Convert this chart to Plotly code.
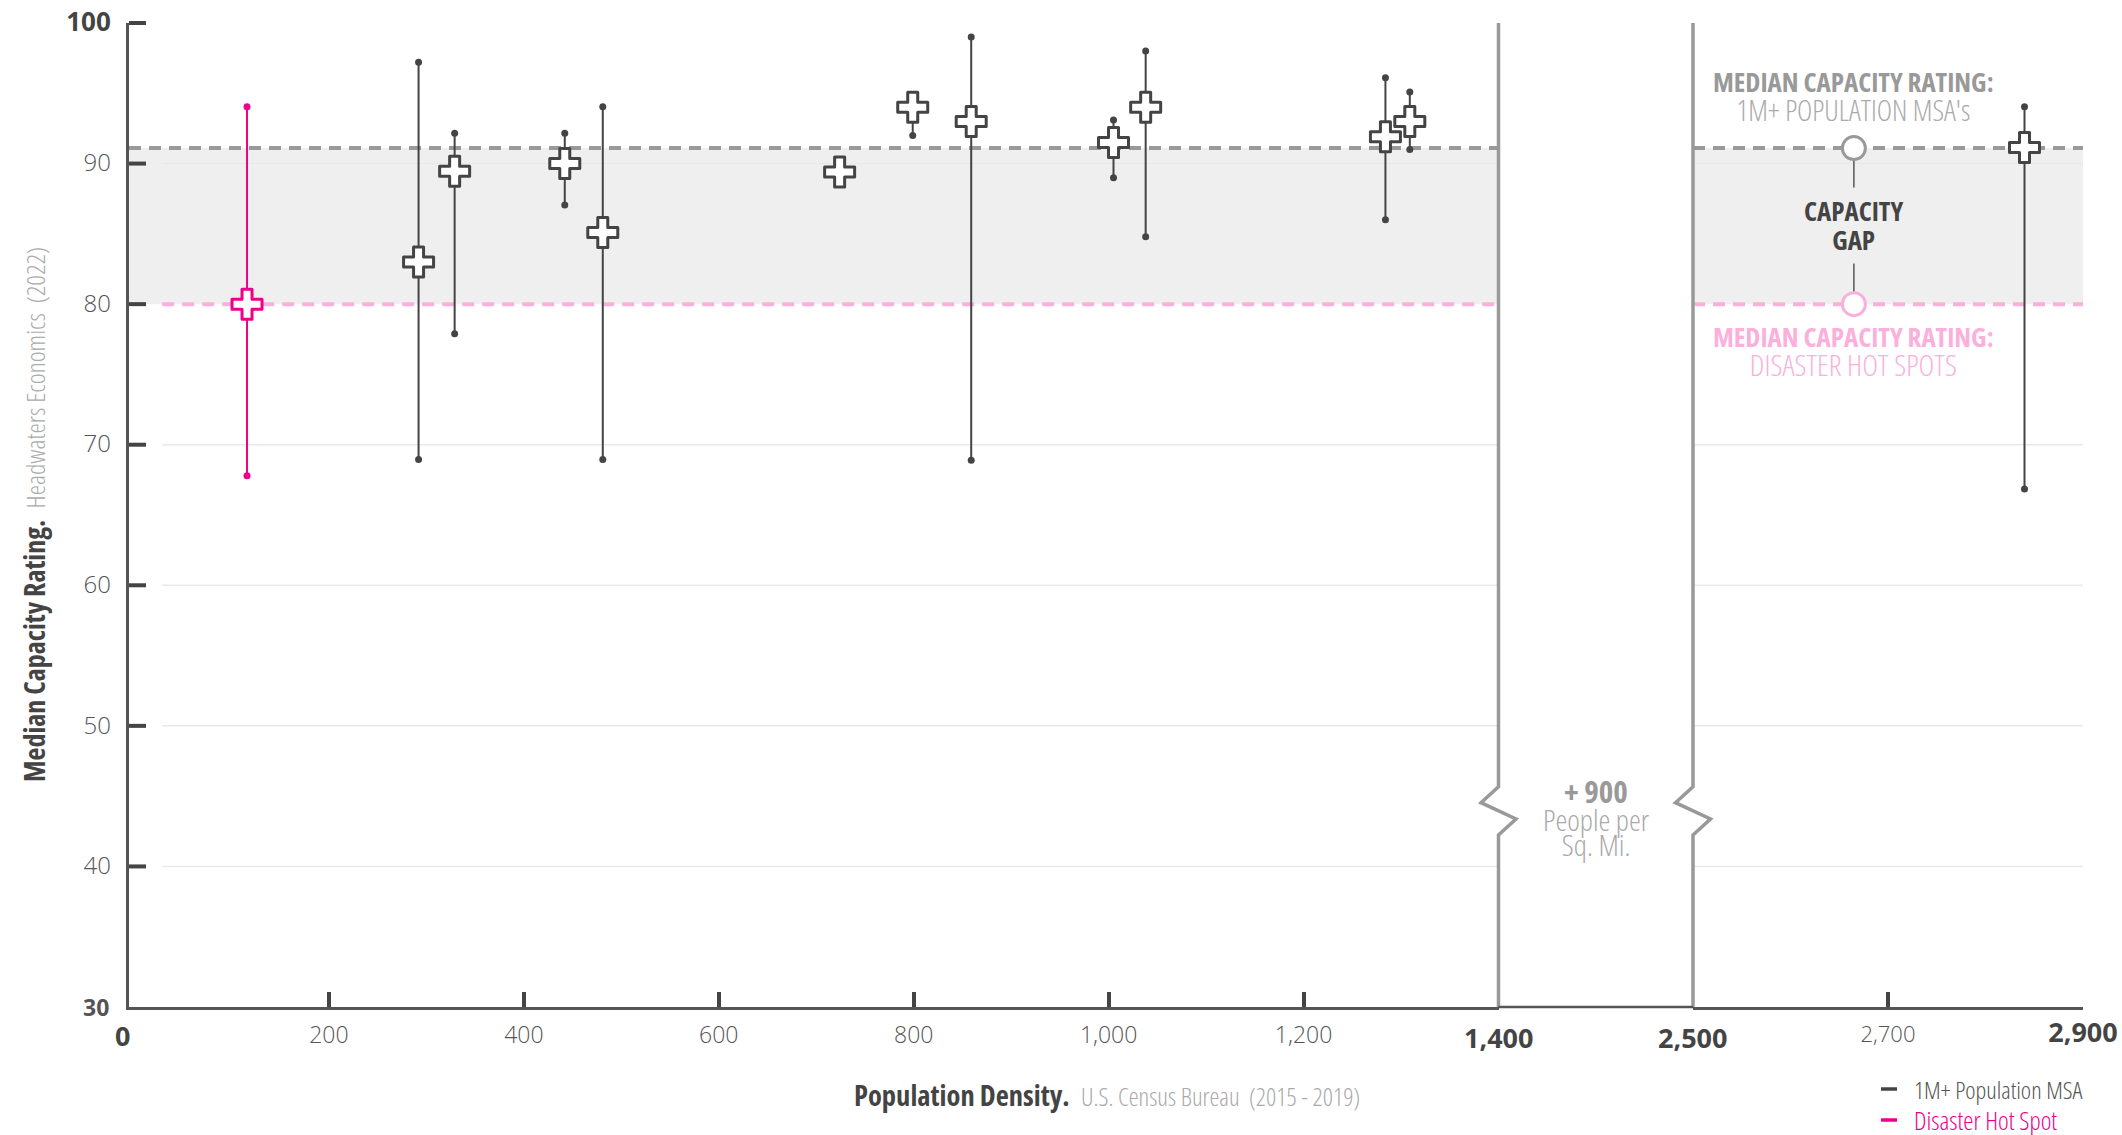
import plotly.graph_objects as go

# ---------- data ----------
hot_density = [116]
hot_median = [80]
hot_low = [67.8]
hot_high = [94.05]

msa_density = [292, 329, 442, 481, 724, 799, 859, 1005, 1038, 1284, 1309]
msa_median = [83, 89.45, 90, 85.1, 89.4, 94, 93, 91.5, 94, 91.9, 93]
msa_low = [68.95, 77.9, 87.05, 68.95, 89.4, 92, 68.9, 89, 84.8, 86, 91]
msa_high = [97.2, 92.15, 92.15, 94.05, 89.4, 94, 99, 93.1, 98, 96.1, 95.1]

far_density = [2840]
far_median = [91.15]
far_low = [66.85]
far_high = [94.05]

median_msa = 91.1
median_hot = 80
y_ticks = [40, 50, 60, 70, 80, 90, 100]
x_ticks_left = [200, 400, 600, 800, 1000, 1200]
x_tick_labels_left = ["200", "400", "600", "800", "1,000", "1,200"]
x_ticks_right = [2700, 2900]
gap_x = 2665
x_start = -5.1

# ---------- style ----------
FONT = "Open Sans, Noto Sans, sans-serif"
COND = 75
FULL = 100
DARK = "#444444"
MID = "#555555"
GREY = "#999999"
LGREY = "#aaaaaa"
PINK = "#ec008c"
LPINK = "#fbb0dc"
W, H = 2122, 1135
L, R, T, B = 129, 39, 23, 128
PW, PH = W - L - R, H - T - B
d1 = (1498.5 - L) / PW
d2 = (1693 - L) / PW


def lab(t, size, bold=False, color=MID, stretch=COND):
    w = 700 if bold else 300
    return f'<span style="font-stretch:{stretch}%;font-size:{size}px;color:{color};font-weight:{w}">{t}</span>'


def px(v):
    return (v - L) / PW


def py(v):
    return 1 - (v - T) / PH


fig = go.Figure()


def whisk(xs, meds, lows, highs, color, axis):
    wx, wy = [], []
    for x, lo, hi in zip(xs, lows, highs):
        wx += [x, x, None]
        wy += [lo, hi, None]
    fig.add_trace(go.Scatter(x=wx, y=wy, mode="lines", xaxis=axis, yaxis="y", showlegend=False,
                             line=dict(color=color, width=2), cliponaxis=False, hoverinfo="skip"))
    fig.add_trace(go.Scatter(x=xs + xs, y=lows + highs, mode="markers", xaxis=axis, yaxis="y", showlegend=False,
                             marker=dict(color=color, size=7), cliponaxis=False, hoverinfo="skip"))
    fig.add_trace(go.Scatter(x=xs, y=meds, mode="markers", xaxis=axis, yaxis="y", showlegend=False, cliponaxis=False,
                             marker=dict(symbol="cross", size=25, color="white", line=dict(color=color, width=3))))


shapes = []


def hline(y, x0, x1, ref, color, width, dash="solid", layer="below"):
    shapes.append(dict(type="line", xref=ref, yref="y", x0=x0, x1=x1, y0=y, y1=y, layer=layer,
                       line=dict(color=color, width=width, dash=dash)))


for ref, a, b in (("x", x_start, 1400), ("x2", 2500, 2900)):
    shapes.append(dict(type="rect", xref=ref, yref="y", x0=a, x1=b, y0=median_hot, y1=median_msa, layer="below",
                       fillcolor="#efefef", line=dict(width=0)))
for ref, a, b in (("x", 29, 1400), ("x2", 2500, 2900)):
    for y in [40, 50, 60, 70, 90]:
        hline(y, a, b, ref, "#e9e9e9", 1.5)
for ref, a, b in (("x", x_start, 1400), ("x2", 2500, 2900)):
    hline(median_msa, a, b, ref, GREY, 4, "12px,8px")
for ref, a, b in (("x", 29, 1400), ("x2", 2500, 2900)):
    hline(median_hot, a, b, ref, LPINK, 4, "12px,8px")


def zig(xp):
    c = xp
    u = 17.5 / PW
    pts = [(c, py(23)), (c, py(786.7)), (c - u, py(802.7)), (c + u, py(819)), (c, py(835)), (c, py(1007))]
    p = "M " + " L ".join(f"{a:.5f} {b:.5f}" for a, b in pts)
    shapes.append(dict(type="path", path=p, xref="paper", yref="paper", layer="above",
                       line=dict(color=GREY, width=3.5)))


zig(d1)
zig(d2)

# y-axis tick marks
for v in y_ticks:
    f = (v - 30) / 70
    shapes.append(dict(type="line", xref="paper", yref="paper", x0=0, x1=px(146), y0=f, y1=f, layer="above",
                       line=dict(color=DARK, width=4)))

shapes.append(dict(type="line", xref="paper", yref="paper", x0=d1, x1=d2, y0=0, y1=0, layer="above",
                   line=dict(color="#555555", width=2.5)))

shapes.append(dict(type="line", xref="x2", yref="y", x0=gap_x, x1=gap_x, y0=88.3, y1=median_msa,
                   line=dict(color="#555555", width=1.5), layer="below"))
shapes.append(dict(type="line", xref="x2", yref="y", x0=gap_x, x1=gap_x, y0=82.9, y1=median_hot,
                   line=dict(color="#555555", width=1.5), layer="below"))

for yy, c in ((1089, DARK), (1120, PINK)):
    shapes.append(dict(type="line", xref="paper", yref="paper", x0=px(1881), x1=px(1897),
                       y0=py(yy), y1=py(yy), line=dict(color=c, width=3.5), layer="above"))

whisk(msa_density, msa_median, msa_low, msa_high, DARK, "x")
whisk(hot_density, hot_median, hot_low, hot_high, PINK, "x")
whisk(far_density, far_median, far_low, far_high, DARK, "x2")

fig.add_trace(go.Scatter(x=[gap_x], y=[median_msa], mode="markers", xaxis="x2", yaxis="y", showlegend=False,
                         marker=dict(size=23, color="white", line=dict(color=GREY, width=3))))
fig.add_trace(go.Scatter(x=[gap_x], y=[median_hot], mode="markers", xaxis="x2", yaxis="y", showlegend=False,
                         marker=dict(size=23, color="white", line=dict(color=LPINK, width=3))))


def note(text, x, y, xref="x2", yref="y", angle=0, xanchor="center", yanchor="middle", size=22):
    return dict(text=text, x=x, y=y, xref=xref, yref=yref, showarrow=False, textangle=angle,
                xanchor=xanchor, yanchor=yanchor, font=dict(family=FONT, size=size))


annotations = [
    note(lab("MEDIAN CAPACITY RATING:", 27, True, GREY) + "<br>" + lab("1M+ POPULATION MSA's", 29, False, LGREY),
         gap_x, 94.8),
    note(lab("CAPACITY", 27, True, DARK) + "<br>" + lab("GAP", 27, True, DARK), gap_x, 85.65),
    note(lab("MEDIAN CAPACITY RATING:", 27, True, LPINK) + "<br>" + lab("DISASTER HOT SPOTS", 30, False, LPINK),
         gap_x, 76.65),
    note(lab("+ 900", 31, True, GREY), px(1596), py(791), "paper", "paper"),
    note(lab("People per", 30, False, LGREY) + "<br>" + lab("Sq. Mi.", 30, False, LGREY),
         px(1596), py(832), "paper", "paper", size=19),
    note(lab("0", 27, True, DARK, FULL), px(122.5), py(1035), "paper", "paper"),
    note(lab("30", 23, True, MID, FULL), px(111), py(1006.7), "paper", "paper", xanchor="right"),
    note(lab("1,400", 27, True, DARK, FULL), px(1498), py(1037.5), "paper", "paper"),
    note(lab("2,500", 27, True, DARK, FULL), px(1692), py(1037.5), "paper", "paper"),
    note(lab("Median Capacity Rating.", 28, True, DARK) + "  " + lab("Headwaters Economics  (2022)", 26, False, LGREY),
         px(34), py(515), "paper", "paper", angle=-90),
    note(lab("Population Density.", 28.5, True, DARK) + "  " + lab("U.S. Census Bureau  (2015 - 2019)", 25, False, LGREY),
         px(1107), py(1095), "paper", "paper"),
    note(lab("1M+ Population MSA", 24.5, False, MID), px(1912), py(1089), "paper", "paper", xanchor="left"),
    note(lab("Disaster Hot Spot", 25.5, False, PINK), px(1912), py(1120), "paper", "paper", xanchor="left"),
]

y_text = [lab(str(v), 24, False, MID, FULL) for v in y_ticks[:-1]] + [lab("100", 26, True, DARK, FULL)]
common_x = dict(showgrid=False, zeroline=False, showline=True, linecolor="#555555", linewidth=2.5, anchor="y",
                ticks="inside", ticklen=15, tickwidth=3.5, tickcolor=DARK, tickmode="array",
                automargin=False, ticklabeloverflow="allow")

fig.update_layout(
    template="none",
    width=W, height=H, autosize=False, margin=dict(l=L, r=R, t=T, b=B, pad=0),
    paper_bgcolor="white", plot_bgcolor="white", showlegend=False, hovermode=False,
    font=dict(family=FONT, color=MID, size=22),
    xaxis=dict(domain=[0, d1], range=[x_start, 1400], tickvals=x_ticks_left, ticklabelstandoff=7,
               ticktext=[lab(t, 23, False, MID, FULL) for t in x_tick_labels_left], **common_x),
    xaxis2=dict(domain=[d2, 1], range=[2500, 2900], tickvals=x_ticks_right, ticklabelstandoff=6,
                ticktext=[lab("2,700", 22, False, MID, FULL), lab("2,900", 27, True, DARK, FULL)], **common_x),
    yaxis=dict(range=[30, 100], tickmode="array", tickvals=y_ticks, ticktext=y_text, showgrid=False, zeroline=False,
               showline=True, linecolor="#555555", linewidth=2.5, ticks="", ticklabelstandoff=11,
               automargin=False, ticklabeloverflow="allow"),
    shapes=shapes, annotations=annotations,
)

fig.write_html("out.html",
               post_script="document.body.style.margin='0';"
                           "var s=document.createElement('style');"
                           "s.textContent='.scatterlayer .points path{stroke-linejoin:round}';"
                           "document.head.appendChild(s);",
               config=dict(displayModeBar=False))
